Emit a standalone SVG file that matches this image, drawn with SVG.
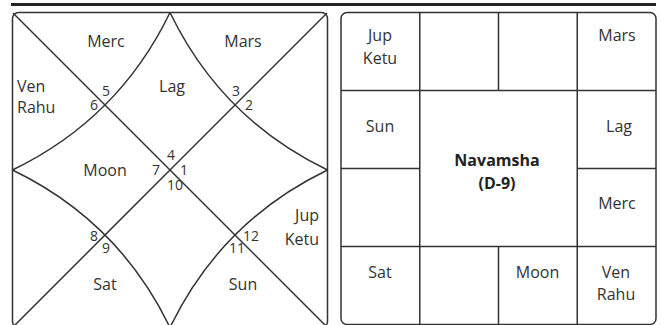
<svg xmlns="http://www.w3.org/2000/svg" width="661" height="325" viewBox="0 0 661 325">
<style>
.ln{fill:none;stroke:#333;stroke-width:1.5}
.t{font-family:"Open Sans","Noto Sans",sans-serif;font-size:16px;fill:#333}
.n{font-family:"Open Sans","Noto Sans",sans-serif;font-size:14px;fill:#333}
.c{text-anchor:middle}
.r{text-anchor:end}
.b{font-weight:bold;fill:#222}
</style>
<rect x="11" y="3" width="645" height="3" fill="#222"/>
<g id="rasi-chart">
<rect class="ln" x="12.5" y="12.5" width="315" height="315" rx="6"/>
<g id="connectors">
<line class="ln" x1="13" y1="13" x2="327" y2="327"/>
<line class="ln" x1="327" y1="13" x2="13" y2="327"/>
<path class="ln" d="M170,12.5 Q118.75,118.75 12.5,170"/>
<path class="ln" d="M170,12.5 Q221.25,118.75 327.5,170"/>
<path class="ln" d="M170,327.5 Q118.75,221.25 12.5,170"/>
<path class="ln" d="M170,327.5 Q221.25,221.25 327.5,170"/>
</g>
<g id="h1"><text class="t c" x="172" y="92">Lag</text><text class="n" x="180" y="175">1</text></g>
<g id="h2"><text class="t c" x="243" y="47">Mars</text><text class="n" x="245" y="110">2</text></g>
<g id="h3"><text class="n" x="232" y="96">3</text></g>
<g id="h4"><text class="t c" x="106" y="47">Merc</text><text class="n" x="167" y="160">4</text></g>
<g id="h5"><text class="n" x="102" y="96">5</text></g>
<g id="h6"><text class="t" x="17" y="92">Ven</text><text class="t" x="17" y="113">Rahu</text><text class="n" x="90" y="110">6</text></g>
<g id="h7"><text class="t c" x="105" y="176">Moon</text><text class="n" x="152" y="175">7</text></g>
<g id="h8"><text class="n" x="90" y="241">8</text></g>
<g id="h9"><text class="t c" x="105" y="290">Sat</text><text class="n" x="102" y="253">9</text></g>
<g id="h10"><text class="n" x="167" y="190">10</text></g>
<g id="h11"><text class="t c" x="243" y="290">Sun</text><text class="n" x="229" y="253">11</text></g>
<g id="h12"><text class="t r" x="319" y="221">Jup</text><text class="t r" x="319" y="245">Ketu</text><text class="n" x="243" y="241">12</text></g>
</g>
<g id="navamsha-chart">
<rect class="ln" x="341" y="12.5" width="315" height="312" rx="6"/>
<g id="grid">
<line class="ln" x1="341" y1="90.5" x2="656" y2="90.5"/>
<line class="ln" x1="341" y1="246.5" x2="656" y2="246.5"/>
<line class="ln" x1="341" y1="168.5" x2="419.75" y2="168.5"/>
<line class="ln" x1="577.25" y1="168.5" x2="656" y2="168.5"/>
<line class="ln" x1="419.75" y1="12.5" x2="419.75" y2="324.5"/>
<line class="ln" x1="577.25" y1="12.5" x2="577.25" y2="324.5"/>
<line class="ln" x1="498.5" y1="12.5" x2="498.5" y2="90.5"/>
<line class="ln" x1="498.5" y1="246.5" x2="498.5" y2="324.5"/>
</g>
<g id="cell-pisces"><text class="t c" x="380" y="41">Jup</text><text class="t c" x="380" y="64">Ketu</text></g>
<g id="cell-gemini"><text class="t c" x="617" y="41">Mars</text></g>
<g id="cell-aquarius"><text class="t c" x="380" y="132">Sun</text></g>
<g id="cell-cancer"><text class="t c" x="619" y="132">Lag</text></g>
<g id="cell-leo"><text class="t c" x="617" y="209">Merc</text></g>
<g id="center"><text class="t c b" x="497" y="166">Navamsha</text><text class="t c b" x="497" y="189">(D-9)</text></g>
<g id="cell-capricorn"><text class="t c" x="380" y="278">Sat</text></g>
<g id="cell-scorpio"><text class="t c" x="537.5" y="278">Moon</text></g>
<g id="cell-virgo"><text class="t c" x="616" y="278">Ven</text><text class="t c" x="616" y="300">Rahu</text></g>
</g>
</svg>
